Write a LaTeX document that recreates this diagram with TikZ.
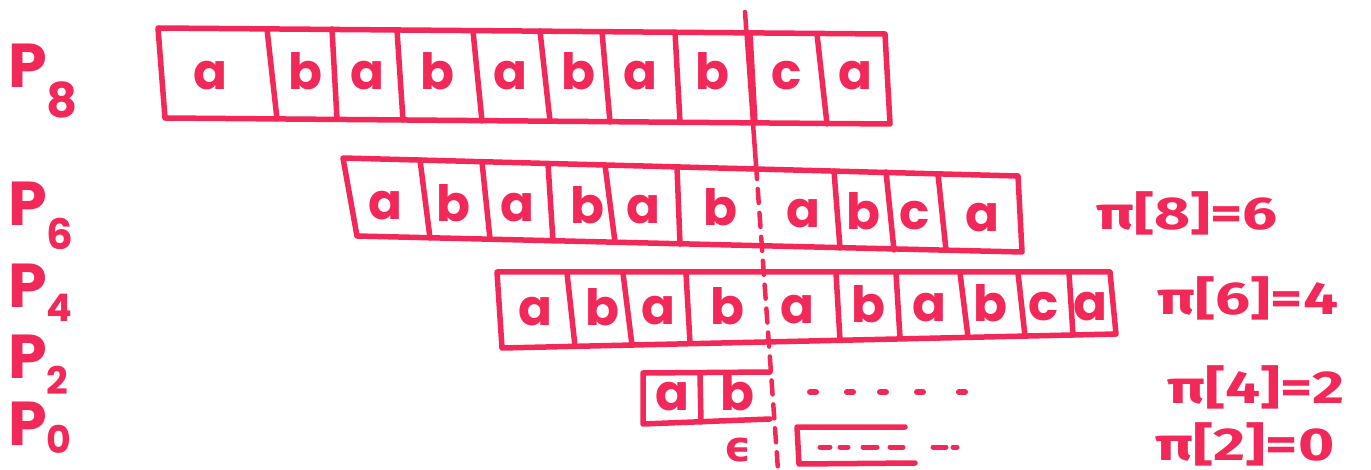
\documentclass[tikz,border=0pt]{standalone}
\usepackage{fontspec}
\usepackage{graphicx}
\setmainfont{Poppins}
\newfontfamily\greekfont{Fira Sans}
\newfontfamily\dejavu{DejaVu Sans}
\definecolor{marker}{RGB}{242,40,88}
\begin{document}
\begin{tikzpicture}[x=1pt,y=-1pt,line cap=round,line join=round,
  box/.style={draw=marker,line width=5.5pt},
  dotmark/.style={draw=marker,line width=6pt},
  letter/.style={text=marker,font=\bfseries\fontsize{50}{50}\selectfont,anchor=base,inner sep=0pt},
  rowlab/.style={text=marker,font=\bfseries\fontsize{62}{62}\selectfont,anchor=base west,inner sep=0pt},
  pilab/.style={text=marker,font=\greekfont\bfseries\fontsize{46}{46}\selectfont,anchor=center,inner sep=0pt}]
\useasboundingbox (0,0) rectangle (1371,470);

% ---------- row P8 ----------
\draw[box] (158,28) -- (885,34) -- (890,124) -- (165,118) -- cycle;
\foreach \a/\b/\c/\d in {267/29/277/119, 332/29/337/119, 397/30/403/120, 473/31/482/121,
  540/31/550/121, 602/32/610/122, 675/32/680/122, 750/33/755/123, 817/34/827/124}
  \draw[box] (\a,\b) -- (\c,\d);
\foreach \x/\t [count=\i] in {210/a, 305/b, 367/a, 437/b, 510/a, 578/b, 640/a, 712/b, 787/c, 855/a}
  \node[letter] (r8c\i) at (\x,90) {\t};

% ---------- row P6 ----------
\draw[box] (343,158) -- (1018,176) -- (1022,252) -- (357,236) -- cycle;
\foreach \a/\b/\c/\d in {420/160/430/238, 482/162/490/239, 548/164/553/241, 605/165/615/242,
  677/167/680/244, 834/171/840/248, 886/172/894/250, 938/174/946/250}
  \draw[box] (\a,\b) -- (\c,\d);
\foreach \x/\y/\t [count=\i] in {385/220/a, 453/222/b, 517/222/a, 587/224/b, 643/224/a,
  720/226/b, 803/228/a, 863/230/b, 915/230/c, 982/232/a}
  \node[letter] (r6c\i) at (\x,\y) {\t};

% ---------- row P4 ----------
\draw[box] (497,272) -- (1110,272) -- (1116,334) -- (502,348) -- cycle;
\foreach \a/\b/\c/\d in {567/273/575/346, 623/273/632/345, 686/273/690/343, 836/273/840/340,
  896/273/900/338, 960/273/968/337, 1018/273/1025/336, 1069/273/1073/335}
  \draw[box] (\a,\b) -- (\c,\d);
\foreach \x/\y/\t [count=\i] in {535/326/a, 602/326/b, 658/325/a, 727/325/b, 797/324/a,
  868/323/b, 929/322/a, 990/322/b, 1044/321/c, 1090/321/a}
  \node[letter] (r4c\i) at (\x,\y) {\t};

% ---------- row P2 ----------
\draw[box] (770,372) -- (643,373) -- (643,424) -- (770,419);
\draw[box] (700,375) -- (701,422);
\node[letter] (r2c1) at (672,410) {a};
\node[letter] (r2c2) at (737,410) {b};
\foreach \x in {813,850,883,920,962}
  \draw[dotmark] (\x-3,392) -- (\x+3,392);

% ---------- row P0 ----------
\node[text=marker,font=\dejavu\bfseries\fontsize{42}{42}\selectfont,inner sep=0pt] (eps) at (738,450) {ϵ};
\draw[box] (905,427) -- (797,427) -- (799,464) -- (915,463);
\foreach \a/\b in {820/830, 840/848, 863/877, 890/903, 933/946, 953/957}
  \draw[dotmark,line width=5pt] (\a,447) -- (\b,447);

% ---------- dashed separator ----------
\draw[marker,line width=4.5pt] (745,12) -- (756,165);
\draw[marker,line width=4.5pt,dash pattern=on 14pt off 10pt] (756,165) -- (778,470);

% ---------- row labels ----------
\node[rowlab] (p8) at (8,88) {P\raisebox{-30pt}{\fontsize{48}{48}\selectfont 8}};
\node[rowlab] (p6) at (8,226) {P\raisebox{-24pt}{\fontsize{42}{42}\selectfont 6}};
\node[rowlab] (p4) at (8,308) {P\raisebox{-14pt}{\fontsize{38}{38}\selectfont 4}};
\node[rowlab] (p2) at (8,378) {P\raisebox{-16pt}{\fontsize{38}{38}\selectfont 2}};
\node[rowlab] (p0) at (8,445) {P\raisebox{-8pt}{\fontsize{38}{38}\selectfont 0}};

% ---------- pi values ----------
\node[pilab] (pi8) at (1187,213) {\scalebox{1.35}[1]{π[8]=6}};
\node[pilab] (pi6) at (1248,298) {\scalebox{1.35}[1]{π[6]=4}};
\node[pilab] (pi4) at (1256,387) {\scalebox{1.35}[1]{π[4]=2}};
\node[pilab] (pi2) at (1245,444) {\scalebox{1.35}[1]{π[2]=0}};
\end{tikzpicture}
\end{document}
